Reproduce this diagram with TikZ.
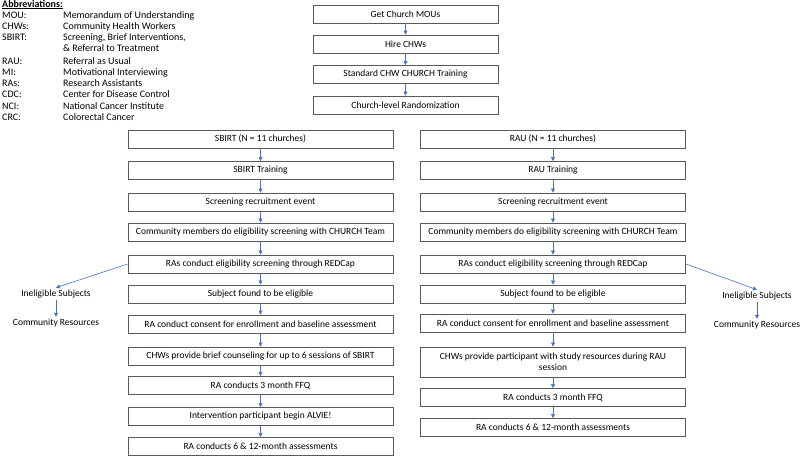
\documentclass[tikz,border=0pt]{standalone}
\usepackage{fontspec}
\setmainfont{Carlito}
\usepackage{tikz}
\usetikzlibrary{arrows.meta}
\definecolor{flowblue}{HTML}{4472C4}
\definecolor{boxgray}{HTML}{595959}

\begin{document}
\begin{tikzpicture}[x=1pt,y=-1pt,
  box/.style={draw=boxgray,line width=0.9pt,minimum height=18pt,inner sep=1pt,
    font=\fontsize{9.5}{11}\selectfont,align=center},
  topbox/.style={box,minimum width=185pt},
  colbox/.style={box,minimum width=265pt},
  plain/.style={inner sep=2pt,font=\fontsize{9.5}{11}\selectfont},
  abbr/.style={anchor=base west,inner sep=0pt,font=\fontsize{10}{12}\selectfont},
  flow/.style={-{Triangle[length=4pt,width=4pt]},flowblue,line width=0.6pt}]
\useasboundingbox (0,0) rectangle (800,455);

%% abbreviations
\node[abbr] (abbrHead) at (2,7) {\underline{\textbf{Abbreviations:}}};
\node[abbr] at (2,18) {MOU:};    \node[abbr] at (63,18) {Memorandum of Understanding};
\node[abbr] at (2,29) {CHWs:};   \node[abbr] at (63,29) {Community Health Workers};
\node[abbr] at (2,40) {SBIRT:};  \node[abbr] at (63,40) {Screening, Brief Interventions,};
                                 \node[abbr] at (63,51) {\& Referral to Treatment};
\node[abbr] at (2,64) {RAU:};    \node[abbr] at (63,64) {Referral as Usual};
\node[abbr] at (2,75) {MI:};     \node[abbr] at (63,75) {Motivational Interviewing};
\node[abbr] at (2,86) {RAs:};    \node[abbr] at (63,86) {Research Assistants};
\node[abbr] at (2,97) {CDC:};    \node[abbr] at (63,97) {Center for Disease Control};
\node[abbr] at (2,109) {NCI:};   \node[abbr] at (63,109) {National Cancer Institute};
\node[abbr] at (2,120) {CRC:};   \node[abbr] at (63,120) {Colorectal Cancer};

%% common start
\node[topbox] (mou) at (405.5,14) {Get Church MOUs};
\node[topbox] (hire) at (405.5,44) {Hire CHWs};
\node[topbox] (train) at (405.5,74.5) {Standard CHW CHURCH Training};
\node[topbox] (rand) at (405.5,105) {Church-level Randomization};
\draw[flow] (mou)--(hire);
\draw[flow] (hire)--(train);
\draw[flow] (train)--(rand);

%% SBIRT arm
\node[colbox] (sbirt) at (260.5,139) {SBIRT (N = 11 churches)};
\node[colbox] (sbTrain) at (260.5,170.5) {SBIRT Training};
\node[colbox] (sbEvent) at (260.5,202) {Screening recruitment event};
\node[colbox] (sbComm) at (260.5,232) {Community members do eligibility screening with CHURCH Team};
\node[colbox] (sbRAs) at (260.5,264) {RAs conduct eligibility screening through REDCap};
\node[colbox] (sbElig) at (260.5,294) {Subject found to be eligible};
\node[colbox] (sbConsent) at (260.5,324) {RA conduct consent for enrollment and baseline assessment};
\node[colbox] (sbCounsel) at (260.5,356) {CHWs provide brief counseling for up to 6 sessions of SBIRT};
\node[colbox] (sbFFQ) at (260.5,385.5) {RA conducts 3 month FFQ};
\node[colbox] (sbAlvie) at (260.5,416.5) {Intervention participant begin ALVIE!};
\node[colbox] (sbFollow) at (260.5,446.5) {RA conducts 6 \& 12-month assessments};
\foreach \a/\b in {sbirt/sbTrain,sbTrain/sbEvent,sbEvent/sbComm,sbComm/sbRAs,
  sbRAs/sbElig,sbElig/sbConsent,sbConsent/sbCounsel,sbCounsel/sbFFQ,
  sbFFQ/sbAlvie,sbAlvie/sbFollow}
  \draw[flow] (\a)--(\b);

\node[plain] (leftInel) at (56,294) {Ineligible Subjects};
\node[plain] (leftRes) at (56,323) {Community Resources};
\draw[flow] (sbRAs.west)--(leftInel.north);
\draw[flow] (leftInel)--(leftRes);

%% RAU arm
\node[colbox] (rau) at (553,139) {RAU (N = 11 churches)};
\node[colbox] (rauTrain) at (553,170.5) {RAU Training};
\node[colbox] (rauEvent) at (553,202) {Screening recruitment event};
\node[colbox] (rauComm) at (553,232) {Community members do eligibility screening with CHURCH Team};
\node[colbox] (rauRAs) at (553,264) {RAs conduct eligibility screening through REDCap};
\node[colbox] (rauElig) at (553,294) {Subject found to be eligible};
\node[colbox] (rauConsent) at (553,323) {RA conduct consent for enrollment and baseline assessment};
\node[colbox,minimum height=30pt] (rauSession) at (553,362)
  {CHWs provide participant with study resources during RAU\\session};
\node[colbox] (rauFFQ) at (553,397.5) {RA conducts 3 month FFQ};
\node[colbox] (rauFollow) at (553,427.5) {RA conducts 6 \& 12-month assessments};
\foreach \a/\b in {rau/rauTrain,rauTrain/rauEvent,rauEvent/rauComm,rauComm/rauRAs,
  rauRAs/rauElig,rauElig/rauConsent,rauConsent/rauSession,rauSession/rauFFQ,
  rauFFQ/rauFollow}
  \draw[flow] (\a)--(\b);

\node[plain] (rightInel) at (757,296) {Ineligible Subjects};
\node[plain] (rightRes) at (757,325) {Community Resources};
\draw[flow] (rauRAs.east)--(rightInel.north);
\draw[flow] (rightInel)--(rightRes);
\end{tikzpicture}
\end{document}
